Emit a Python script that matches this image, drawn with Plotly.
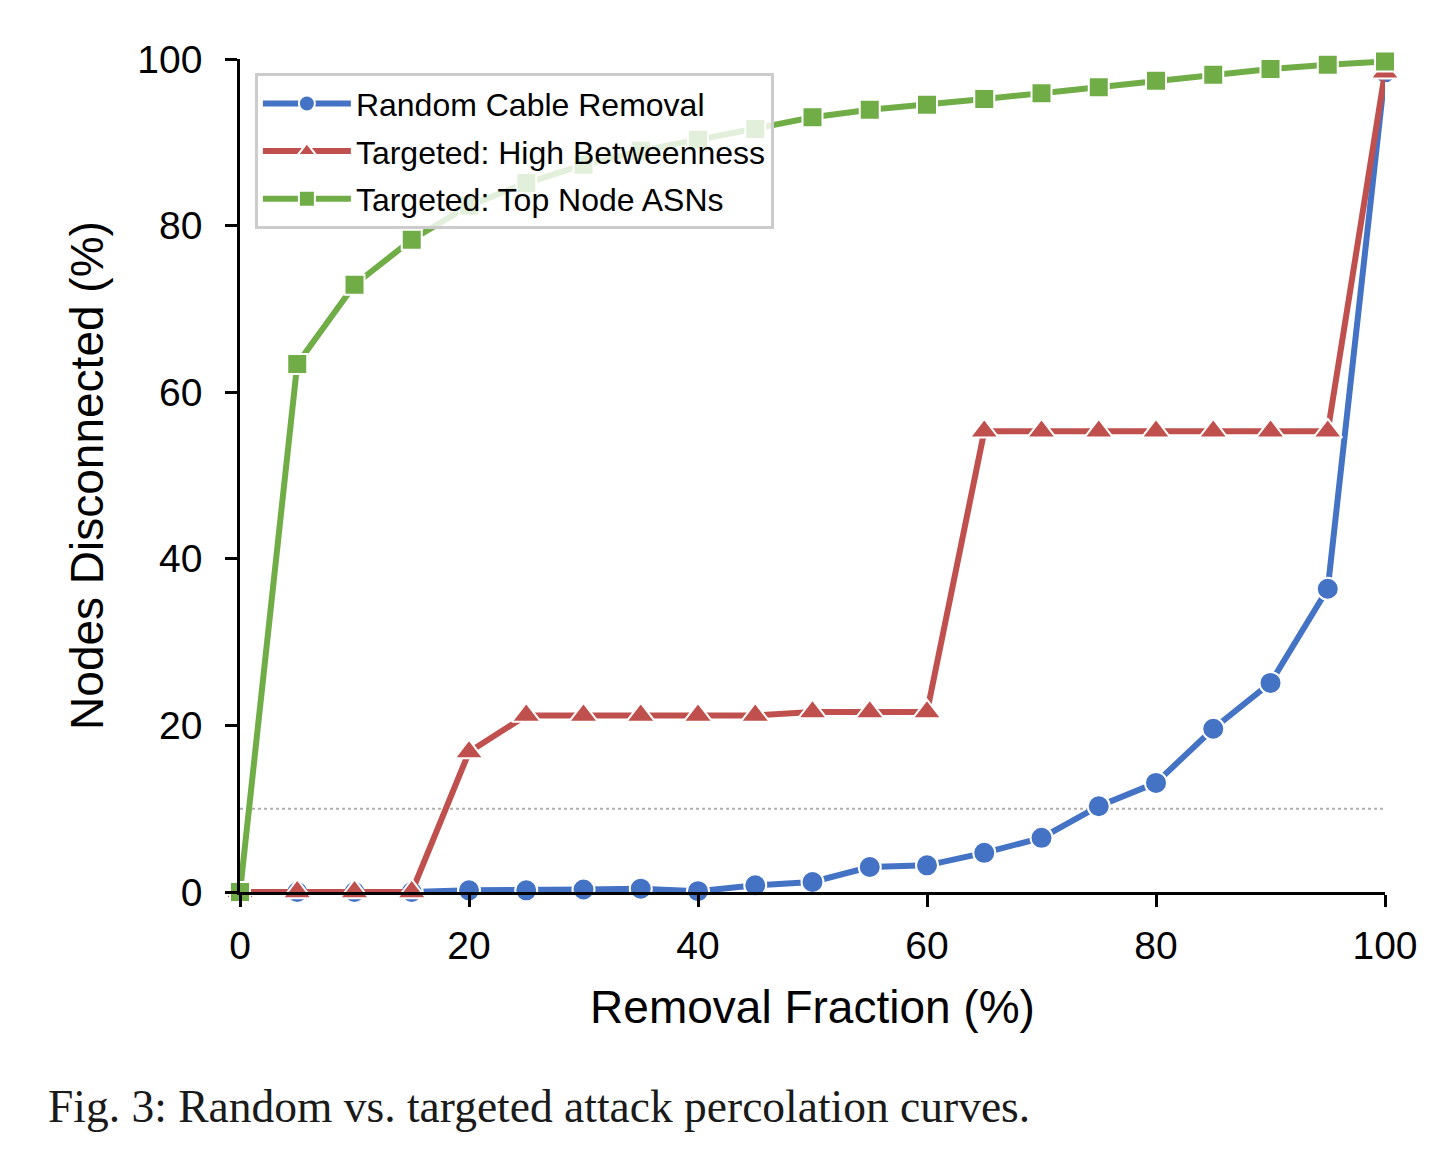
import plotly.graph_objects as go

removal = [0, 5, 10, 15, 20, 25, 30, 35, 40, 45, 50, 55, 60, 65, 70, 75, 80, 85, 90, 95, 100]

random_cable = [0, 0, 0, 0, 0.2, 0.2, 0.3, 0.4, 0.1, 0.8, 1.2, 3.0, 3.2, 4.7, 6.5, 10.3, 13.1, 19.6, 25.1, 36.4, 98.4]
high_betweenness = [0, 0, 0, 0, 16.8, 21.2, 21.2, 21.2, 21.2, 21.2, 21.6, 21.6, 21.6, 55.3, 55.3, 55.3, 55.3, 55.3, 55.3, 55.3, 98.4]
top_node_asns = [0, 63.4, 72.9, 78.3, 82.4, 85.1, 87.3, 89.0, 90.3, 91.6, 93.0, 93.9, 94.5, 95.2, 95.9, 96.6, 97.4, 98.1, 98.8, 99.3, 99.7]

threshold = 10

series = [
    ("Random Cable Removal", random_cable, "#4472C4", "circle", 22),
    ("Targeted: High Betweenness", high_betweenness, "#C0504D", "triangle-up", 25),
    ("Targeted: Top Node ASNs", top_node_asns, "#70AD47", "square", 20),
]

fig = go.Figure()

# dotted reference line
fig.add_trace(go.Scatter(
    x=[removal[0], removal[-1]], y=[threshold, threshold],
    mode="lines", line=dict(color="#b0b0b0", width=2, dash="dot"),
    showlegend=False, hoverinfo="skip",
))

for name, vals, col, sym, size in series:
    fig.add_trace(go.Scatter(
        x=removal, y=vals, name=name, mode="lines+markers", legendgroup=name,
        line=dict(color=col, width=6),
        marker=dict(symbol=sym, size=size, color=col, line=dict(color="white", width=2)),
        cliponaxis=False,
    ))

font_family = "Arial, Liberation Sans, sans-serif"

axis_common = dict(
    range=[0, 100], tickvals=[0, 20, 40, 60, 80, 100],
    showline=True, linecolor="black", linewidth=2.5, mirror=False,
    ticks="outside", ticklen=12, tickwidth=2.5, tickcolor="black",
    showgrid=False, zeroline=False, automargin=False,
    tickfont=dict(size=39),
)

fig.update_layout(
    width=1455, height=1153,
    paper_bgcolor="white", plot_bgcolor="white",
    font=dict(family=font_family, size=34, color="black"),
    margin=dict(l=232, r=78, t=51, b=269),
    showlegend=True,
    legend=dict(
        x=0.013, y=0.983, xanchor="left", yanchor="top",
        bgcolor="rgba(255,255,255,0.8)", bordercolor="#cccccc", borderwidth=3,
        font=dict(size=32), tracegroupgap=3, itemwidth=88,
    ),
    xaxis=dict(
        **axis_common, ticklabelstandoff=5,
        title=dict(text="Removal Fraction (%)", font=dict(size=46), standoff=26),
    ),
    yaxis=dict(
        **axis_common, ticklabelstandoff=15,
        title=dict(text="Nodes Disconnected (%)", font=dict(size=46), standoff=20),
    ),
    annotations=[dict(
        text="Fig. 3: Random vs. targeted attack percolation curves.",
        xref="paper", yref="paper", x=-0.169, y=-0.258,
        xanchor="left", yanchor="middle", showarrow=False,
        font=dict(family="Liberation Serif, Times New Roman, serif", size=45.5, color="#1a1a1a"),
    )],
)

fig.write_html("out.html")
